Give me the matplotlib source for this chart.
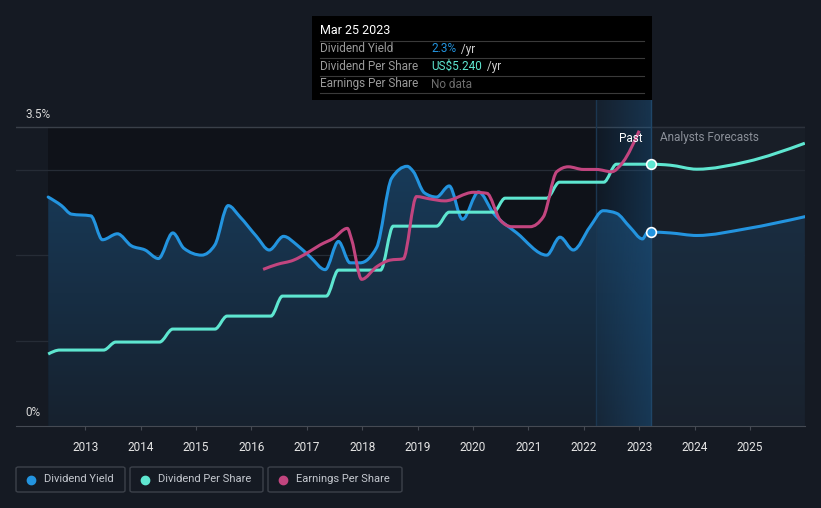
import matplotlib
matplotlib.use('Agg')
import matplotlib.pyplot as plt
import numpy as np
from matplotlib.path import Path
from matplotlib.patches import PathPatch, Rectangle, FancyBboxPatch

# --- data ---
yield_years = [2012.33, 2012.57, 2012.75, 2013.10, 2013.31, 2013.58, 2013.83, 2014.08,
               2014.32, 2014.58, 2014.78, 2015.10, 2015.34, 2015.58, 2015.79, 2016.09,
               2016.32, 2016.58, 2016.82, 2017.06, 2017.33, 2017.57, 2017.78, 2017.96,
               2018.26, 2018.53, 2018.81, 2018.92, 2019.12, 2019.34, 2019.57, 2019.81,
               2020.10, 2020.37, 2020.79, 2021.33, 2021.57, 2021.81, 2022.11, 2022.35,
               2022.59, 2022.83, 2023.06, 2023.14, 2023.21]
yield_pct = [2.68, 2.58, 2.48, 2.46, 2.18, 2.25, 2.11, 2.06,
             1.96, 2.26, 2.08, 2.00, 2.12, 2.58, 2.45, 2.22,
             2.06, 2.22, 2.12, 1.98, 1.83, 2.16, 1.91, 1.91,
             2.09, 2.90, 3.04, 2.98, 2.73, 2.68, 2.81, 2.42,
             2.74, 2.49, 2.26, 2.00, 2.21, 2.06, 2.33, 2.52,
             2.49, 2.33, 2.19, 2.26, 2.27]
yield_fc_years = [2023.56, 2024.04, 2024.94, 2025.99]
yield_fc_pct = [2.26, 2.23, 2.31, 2.45]

dps_years = [2012.33, 2012.54, 2013.33, 2013.55, 2014.34, 2014.58, 2015.34, 2015.56,
             2016.35, 2016.56, 2017.35, 2017.57, 2018.33, 2018.56, 2019.34, 2019.57,
             2020.37, 2020.58, 2021.33, 2021.56, 2022.36, 2022.59, 2023.21]
dps_usd = [1.44, 1.52, 1.52, 1.68, 1.68, 1.94, 1.94, 2.20,
           2.20, 2.60, 2.60, 3.12, 3.12, 4.00, 4.00, 4.28,
           4.28, 4.56, 4.56, 4.88, 4.88, 5.24, 5.24]
dps_fc_years = [2023.56, 2024.04, 2024.94, 2025.99]
dps_fc_usd = [5.22, 5.14, 5.29, 5.66]

eps_years = [2016.21, 2016.46, 2016.76, 2017.00, 2017.24, 2017.48, 2017.73, 2017.81,
             2017.99, 2018.26, 2018.50, 2018.74, 2018.98, 2019.22, 2019.49, 2020.01,
             2020.25, 2020.49, 2020.70, 2021.03, 2021.27, 2021.51, 2021.72, 2021.99,
             2022.23, 2022.50, 2022.71, 2023.00]
eps_usd = [5.15, 5.30, 5.43, 5.64, 5.89, 6.09, 6.39, 6.04,
           4.85, 5.23, 5.43, 5.47, 7.35, 7.28, 7.22, 7.48,
           7.45, 6.64, 6.44, 6.44, 6.74, 8.10, 8.25, 8.17,
           8.17, 8.10, 8.40, 9.34]

year_ticks = list(range(2013, 2026))
today = 2023.21
past_band_start = 2022.22

# --- colours ---
BG = '#151a23'
PAST_BG = '#0f1219'
BLUE = '#2394df'
TEAL = '#5ee6d0'
PINK = '#c2457f'


def monotone_path(x, y):
    x = np.asarray(x, float)
    y = np.asarray(y, float)
    n = len(x)
    dx = np.diff(x)
    s = np.diff(y) / dx
    m = np.zeros(n)
    for i in range(1, n - 1):
        s0, s1 = s[i - 1], s[i]
        if s0 * s1 <= 0:
            m[i] = 0
        else:
            p = (s0 * dx[i] + s1 * dx[i - 1]) / (dx[i - 1] + dx[i])
            m[i] = (np.sign(s0) + np.sign(s1)) * min(abs(s0), abs(s1), 0.5 * abs(p))
    m[0] = (3 * s[0] - m[1]) / 2
    m[-1] = (3 * s[-1] - m[-2]) / 2
    verts = [(x[0], y[0])]
    codes = [Path.MOVETO]
    for i in range(n - 1):
        h = dx[i] / 3
        verts += [(x[i] + h, y[i] + m[i] * h), (x[i + 1] - h, y[i + 1] - m[i + 1] * h),
                  (x[i + 1], y[i + 1])]
        codes += [Path.CURVE4] * 3
    return verts, codes


fig = plt.figure(figsize=(8.21, 5.08), dpi=100, facecolor=BG)
W, H = 821, 508


def px(x, y):
    return x / W, 1 - y / H


ax = fig.add_axes([16 / W, (H - 426) / H, 789 / W, 326 / H])
ax.set_facecolor(BG)
ax.set_xlim(2011.749, 2025.993)
ax.set_ylim(0, 3.816)
for sp in ['top', 'right', 'left']:
    ax.spines[sp].set_visible(False)
ax.spines['bottom'].set_color('#454a53')
ax.set_yticks([])
ax.set_xticks(year_ticks)
ax.set_xticklabels([str(y) for y in year_ticks], family='Roboto')
ax.tick_params(axis='x', length=3, color='#454a53', labelcolor='#e6e6e6', labelsize=8.5, pad=8)

# past dark area
ax.add_patch(Rectangle((yield_years[0], 0), today - yield_years[0], 3.5,
                       facecolor=PAST_BG, edgecolor='none', zorder=0))

# grid
for g in [1, 2, 3]:
    ax.axhline(g, color='#262c36', lw=0.9, zorder=1)
ax.axhline(3.5, color='#3a4049', lw=1.0, zorder=1)

# yield area fill with gradient
yx = yield_years + yield_fc_years
yy = yield_pct + yield_fc_pct
verts, codes = monotone_path(yx, yy)
fverts = verts + [(yx[-1], 0), (yx[0], 0), (yx[0], yy[0])]
fcodes = codes + [Path.LINETO, Path.LINETO, Path.CLOSEPOLY]
clip = PathPatch(Path(fverts, fcodes), facecolor='none', edgecolor='none')
ax.add_patch(clip)
top_c = np.array([0x18, 0x3b, 0x5a]) / 255
bot_c = np.array([0x16, 0x21, 0x2e]) / 255
t = np.linspace(0, 1, 256)[:, None]
grad = (top_c * (1 - t) + bot_c * t)[:, None, :]
im = ax.imshow(grad, extent=[yx[0], yx[-1], 0, 3.1], aspect='auto', origin='upper', zorder=2)
im.set_clip_path(clip)

# forecast region slight overlay
ax.add_patch(Rectangle((today, 0), yx[-1] - today, 3.5, facecolor='#1d232d',
                       alpha=0.45, edgecolor='none', zorder=3))

# past band gradient
band = np.zeros((1, 64, 4))
band[..., 0] = 0x1b / 255
band[..., 1] = 0x5a / 255
band[..., 2] = 0x8e / 255
band[..., 3] = np.linspace(0.10, 0.40, 64)
ax.imshow(band, extent=[past_band_start, today, 0, 3.816], aspect='auto', zorder=3)
ax.axvline(past_band_start, color='#1b3650', lw=1, zorder=3)
ax.axvline(today, color='#1f4668', lw=1, zorder=3)

# lines
ax.add_patch(PathPatch(Path(verts, codes), facecolor='none', edgecolor=BLUE, lw=2.2,
                       zorder=5, capstyle='round'))

ax2 = ax.twinx()
ax2.set_ylim(0, 6.525)
ax2.axis('off')
dx_ = dps_years + dps_fc_years
dy_ = dps_usd + dps_fc_usd
v, c = monotone_path(dx_, dy_)
ax2.add_patch(PathPatch(Path(v, c), facecolor='none', edgecolor=TEAL, lw=2.2, zorder=5))

ax3 = ax.twinx()
ax3.set_ylim(0.419, 10.268)
ax3.axis('off')
v, c = monotone_path(eps_years, eps_usd)
ax3.add_patch(PathPatch(Path(v, c), facecolor='none', edgecolor=PINK, lw=2.2, zorder=5))
for a in (ax2, ax3):
    a.set_xlim(ax.get_xlim())

# markers at tooltip date
ax2.plot([today], [dps_usd[-1]], 'o', ms=7, mfc=TEAL, mec='white', mew=1.2, zorder=6)
ax3_y = 0.419 + yield_pct[-1] / 3.816 * (10.268 - 0.419)
ax3.plot([today], [ax3_y], 'o', ms=7, mfc=BLUE, mec='white', mew=1.2, zorder=6)

# y labels
fig.text(*px(25, 115), '3.5%', color='#d8d8d8', fontsize=8.5, va='center', family='Roboto')
fig.text(*px(25, 413), '0%', color='#d8d8d8', fontsize=8.5, va='center', family='Roboto')

# past / forecast labels
fig.text(*px(642, 138), 'Past', color='white', fontsize=8.5, ha='right', va='center',
         family='Roboto')
fig.text(*px(660, 138), 'Analysts Forecasts', color='#8b9099', fontsize=8.5, ha='left',
         va='center', family='Roboto')

# tooltip
x0, y0 = px(312, 100)
fig.patches.append(Rectangle((x0, y0), 340 / W, 84 / H, transform=fig.transFigure,
                             facecolor='black', edgecolor='none', zorder=10))
fig.text(*px(320, 31), 'Mar 25 2023', color='white', fontsize=9, va='center',
         family='Roboto', zorder=11)
for yl in [41, 58, 76, 93]:
    fig.lines.append(plt.Line2D([320 / W, 644 / W], [1 - yl / H] * 2, transform=fig.transFigure,
                                color='#3a3a3a', lw=0.8, zorder=11))
rows = [('Dividend Yield', '2.3%', BLUE, ' /yr'),
        ('Dividend Per Share', 'US$5.240', TEAL, ' /yr'),
        ('Earnings Per Share', 'No data', '#6e6e6e', '')]
for i, (lab, val, col, unit) in enumerate(rows):
    yy_ = 49 + i * 17.5
    fig.text(*px(320, yy_), lab, color='#9a9a9a', fontsize=8.5, va='center', family='Roboto',
             zorder=11)
    t1 = fig.text(*px(431, yy_), val, color=col, fontsize=8.5, va='center', family='Roboto',
                  zorder=11)
    if unit:
        fig.canvas.draw()
        bb = t1.get_window_extent()
        fig.text((bb.x1 + 2) / W, 1 - yy_ / H, unit, color='#d0d0d0', fontsize=8.5,
                 va='center', family='Roboto', zorder=11)

# legend
legend = [('Dividend Yield', BLUE, 16, 125), ('Dividend Per Share', TEAL, 130, 263),
          ('Earnings Per Share', PINK, 268, 402)]
for lab, col, xa, xb in legend:
    bx, by = px(xa, 492)
    fig.patches.append(FancyBboxPatch((bx, by), (xb - xa) / W, 25 / H,
                                      boxstyle='round,pad=0,rounding_size=0.003',
                                      transform=fig.transFigure, facecolor=BG,
                                      edgecolor='#3c414a', lw=1))
    fig.lines.append(plt.Line2D([(xa + 15) / W], [1 - 479.5 / H], marker='o', ms=6,
                                color=col, transform=fig.transFigure))
    fig.text(*px(xa + 28, 479.5), lab, color='#c4c8cf', fontsize=8, va='center',
             family='Roboto', stretch='condensed')

fig.savefig('out.png', dpi=100, facecolor=BG)
